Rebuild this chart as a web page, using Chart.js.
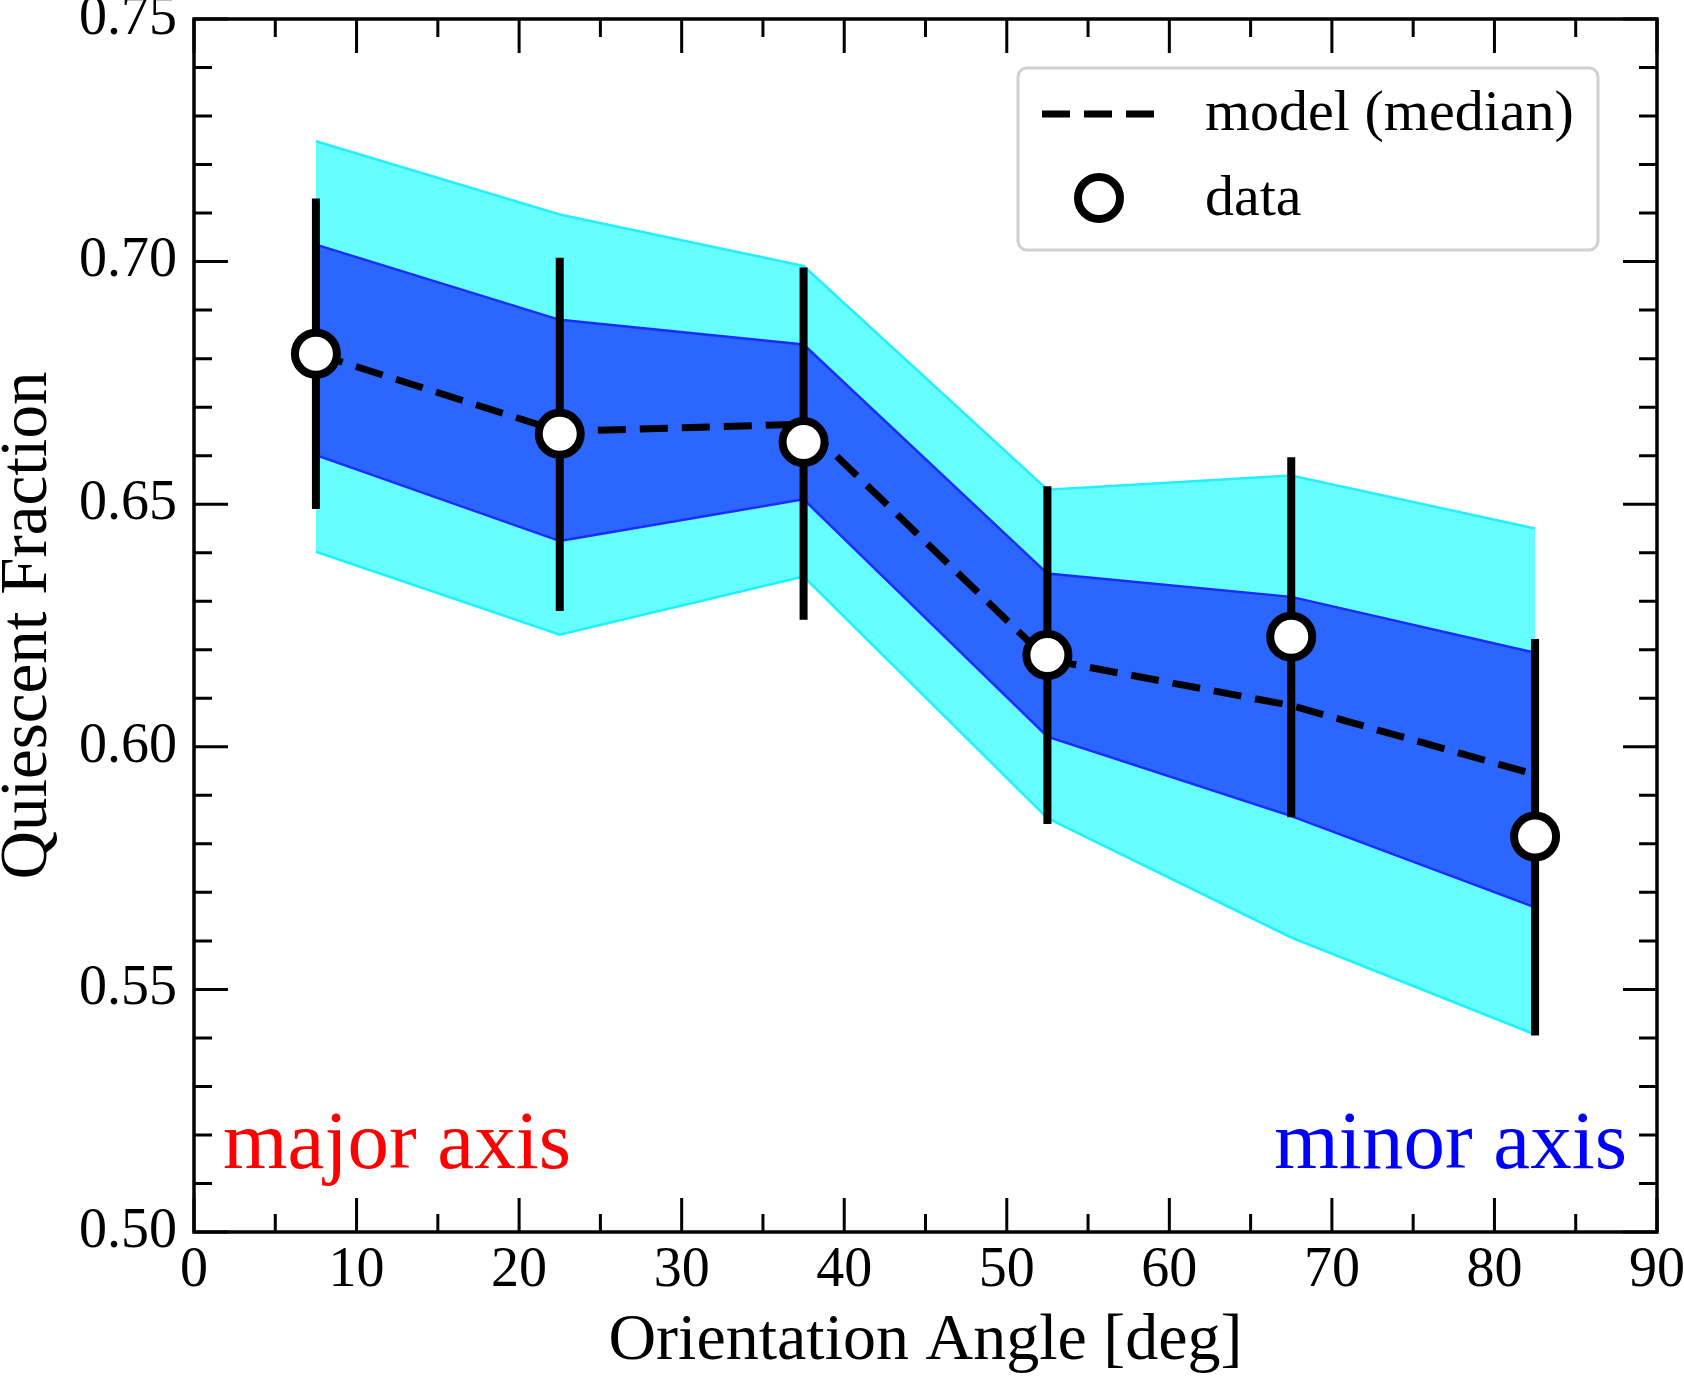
<!DOCTYPE html>
<html>
<head>
<meta charset="utf-8">
<script src="https://cdn.jsdelivr.net/npm/chart.js@4.4.1/dist/chart.umd.min.js"></script>
<style>
  body { margin: 0; background: #fff; }
  #wrap { width: 1684px; height: 1377px; }
</style>
</head>
<body>
<div id="wrap"><canvas id="qfChart" width="1684" height="1377"></canvas></div>
<script>
// Orientation angle bins (deg)
const angles = [7.5, 22.5, 37.5, 52.5, 67.5, 82.5];

// measured quiescent fraction and its error bar ends
const dataValues = [0.681, 0.6645, 0.6628, 0.6189, 0.6227, 0.5815];
const dataHigh   = [0.713, 0.7008, 0.6988, 0.6537, 0.6597, 0.6222];
const dataLow    = [0.649, 0.628, 0.6262, 0.5841, 0.5855, 0.5405];

// model median and bands
const modelMedian = [0.681, 0.665, 0.6665, 0.618, 0.6085, 0.5943];
const band1Upper  = [0.7035, 0.688, 0.6829, 0.6357, 0.6309, 0.6194];
const band1Lower  = [0.6601, 0.6424, 0.651, 0.6021, 0.5857, 0.5669];
const band2Upper  = [0.7248, 0.7097, 0.6991, 0.653, 0.6559, 0.645];
const band2Lower  = [0.6402, 0.6231, 0.6351, 0.5853, 0.5607, 0.5407];

// axis ticks
const xTicks = [0, 10, 20, 30, 40, 50, 60, 70, 80, 90];
const yTickLabels = ['0.50', '0.55', '0.60', '0.65', '0.70', '0.75'];

const serif = "'Liberation Serif', 'DejaVu Serif', serif";
const pts = arr => arr.map((v, i) => ({ x: angles[i], y: v }));

// frame, inward ticks, error bars, legend and labels
const decor = {
    id: 'decor',
    beforeDatasetDraw(chart, args) {
        if (args.index !== 5) return;
        const ctx = chart.ctx, xs = chart.scales.x, ys = chart.scales.y;
        ctx.save();
        ctx.strokeStyle = '#000';
        ctx.lineWidth = 8;
        angles.forEach((a, i) => {
            const px = xs.getPixelForValue(a);
            ctx.beginPath();
            ctx.moveTo(px, ys.getPixelForValue(dataLow[i]));
            ctx.lineTo(px, ys.getPixelForValue(dataHigh[i]));
            ctx.stroke();
        });
        ctx.restore();
    },
    afterDraw(chart) {
        const ctx = chart.ctx, xs = chart.scales.x, ys = chart.scales.y;
        const { left, right, top, bottom } = chart.chartArea;
        ctx.save();
        ctx.strokeStyle = '#000';
        ctx.lineWidth = 3;
        // x ticks, major every 10, minor every 5
        for (let v = 0; v <= 90; v += 5) {
            const px = xs.getPixelForValue(v);
            const len = v % 10 === 0 ? 34 : 18;
            ctx.beginPath();
            ctx.moveTo(px, bottom); ctx.lineTo(px, bottom - len);
            ctx.moveTo(px, top); ctx.lineTo(px, top + len);
            ctx.stroke();
        }
        // y ticks, major every 0.05, minor every 0.01
        for (let k = 0; k <= 25; k++) {
            const py = ys.getPixelForValue(0.5 + k * 0.01);
            const len = k % 5 === 0 ? 34 : 18;
            ctx.beginPath();
            ctx.moveTo(left, py); ctx.lineTo(left + len, py);
            ctx.moveTo(right, py); ctx.lineTo(right - len, py);
            ctx.stroke();
        }
        ctx.lineWidth = 3.5;
        ctx.strokeRect(left, top, right - left, bottom - top);

        // legend
        const lx = 1018, ly = 68, lw = 580, lh = 182;
        ctx.beginPath();
        ctx.roundRect(lx, ly, lw, lh, 9);
        ctx.fillStyle = 'rgba(255,255,255,0.85)';
        ctx.fill();
        ctx.strokeStyle = '#d0d0d0';
        ctx.lineWidth = 3;
        ctx.stroke();

        ctx.strokeStyle = '#000';
        ctx.lineWidth = 7;
        ctx.setLineDash([28, 14]);
        ctx.beginPath();
        ctx.moveTo(1042, 114); ctx.lineTo(1160, 114);
        ctx.stroke();
        ctx.setLineDash([]);
        ctx.lineWidth = 8;
        ctx.beginPath();
        ctx.arc(1099, 198, 21, 0, Math.PI * 2);
        ctx.fillStyle = '#fff';
        ctx.fill();
        ctx.stroke();

        ctx.fillStyle = '#000';
        ctx.font = '58px ' + serif;
        ctx.textBaseline = 'middle';
        ctx.textAlign = 'left';
        ctx.fillText('model (median)', 1205, 115);
        ctx.fillText('data', 1205, 200);

        // axis side labels
        ctx.font = '83px ' + serif;
        ctx.textBaseline = 'alphabetic';
        ctx.fillStyle = '#ff0000';
        ctx.fillText('major axis', 223, 1168);
        ctx.textAlign = 'right';
        ctx.fillStyle = '#0000ff';
        ctx.fillText('minor axis', 1627, 1168);
        ctx.restore();
    }
};

const ctx = document.getElementById('qfChart').getContext('2d');
new Chart(ctx, {
    type: 'line',
    data: {
        datasets: [
            { data: pts(band2Upper), fill: '+1', backgroundColor: '#66ffff', borderColor: '#22f0ff', borderWidth: 2.5, pointRadius: 0, tension: 0, order: 5 },
            { data: pts(band2Lower), fill: false, borderColor: '#22f0ff', borderWidth: 2.5, pointRadius: 0, tension: 0, order: 4 },
            { data: pts(band1Upper), fill: '+1', backgroundColor: '#2b66ff', borderColor: '#1a2cff', borderWidth: 2.5, pointRadius: 0, tension: 0, order: 3 },
            { data: pts(band1Lower), fill: false, borderColor: '#1a2cff', borderWidth: 2.5, pointRadius: 0, tension: 0, order: 2 },
            { data: pts(modelMedian), fill: false, borderColor: '#000', borderWidth: 7, borderDash: [28, 14], pointRadius: 0, tension: 0, order: 1 },
            { data: pts(dataValues), showLine: false, pointRadius: 21, pointBorderWidth: 8, pointBackgroundColor: '#fff', pointBorderColor: '#000', order: 0 }
        ]
    },
    options: {
        responsive: false,
        animation: false,
        layout: { autoPadding: false, padding: { left: 0, top: 19, right: 27, bottom: 0 } },
        plugins: {
            legend: { display: false },
            tooltip: { enabled: false }
        },
        scales: {
            x: {
                type: 'linear', min: 0, max: 90,
                grid: { display: false, drawTicks: false },
                border: { display: false },
                afterBuildTicks: s => { s.ticks = xTicks.map(v => ({ value: v })); },
                ticks: { color: '#000', padding: 6, maxRotation: 0, font: { family: serif, size: 56 } },
                title: { display: true, text: 'Orientation Angle [deg]', color: '#000', padding: 0, font: { family: serif, size: 66, lineHeight: 1.06 } },
                afterFit: s => { s.height = 145; s.paddingLeft = 0; s.paddingRight = 0; }
            },
            y: {
                type: 'linear', min: 0.5, max: 0.75,
                grid: { display: false, drawTicks: false },
                border: { display: false },
                afterBuildTicks: s => { s.ticks = yTickLabels.map(t => ({ value: parseFloat(t) })); },
                ticks: { color: '#000', padding: 17, font: { family: serif, size: 56 },
                    callback: (v, i) => yTickLabels[i] },
                title: { display: true, text: 'Quiescent Fraction', color: '#000', padding: 0, font: { family: serif, size: 67, lineHeight: 0.86 } },
                afterFit: s => { s.width = 194; s.paddingTop = 0; s.paddingBottom = 0; }
            }
        }
    },
    plugins: [decor]
});
</script>
</body>
</html>
